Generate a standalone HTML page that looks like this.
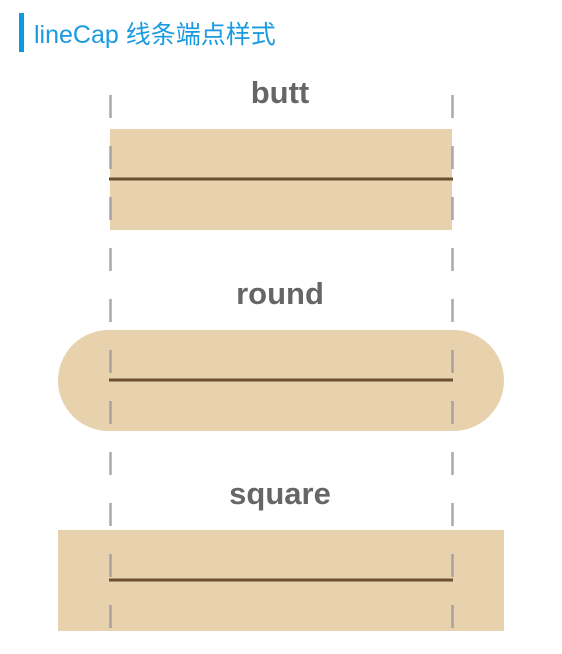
<!DOCTYPE html>
<html><head><meta charset="utf-8"><style>
html,body{margin:0;padding:0;background:#fff;width:562px;height:654px;overflow:hidden}
svg{display:block}
</style></head><body>
<svg width="562" height="654" viewBox="0 0 562 654">
<rect x="19" y="13" width="5" height="39" fill="#0f9ae0"/>
<text x="34" y="43" font-family="'Liberation Sans','Noto Sans CJK SC',sans-serif" font-size="25" fill="#1a9ae0">lineCap 线条端点样式</text>

<rect x="110" y="129" width="342" height="101" fill="#e8d2ae"/>
<rect x="58" y="330" width="446" height="101" rx="50.5" fill="#e8d2ae"/>
<rect x="58" y="530" width="446" height="101" fill="#e8d2ae"/>

<g stroke="#6b4f2e" stroke-width="3">
<line x1="109" y1="179" x2="453" y2="179"/>
<line x1="109" y1="380" x2="453" y2="380"/>
<line x1="109" y1="580" x2="453" y2="580"/>
</g>

<g stroke="#9a9a9a" stroke-opacity="0.85" stroke-width="2.5" stroke-dasharray="23 28">
<line x1="110.5" y1="95" x2="110.5" y2="640"/>
<line x1="452.5" y1="95" x2="452.5" y2="640"/>
</g>

<g font-family="'Liberation Sans',sans-serif" font-weight="bold" font-size="31" fill="#666" text-anchor="middle">
<text x="280" y="103">butt</text>
<text x="280" y="304">round</text>
<text x="280" y="504">square</text>
</g>
</svg>
</body></html>
